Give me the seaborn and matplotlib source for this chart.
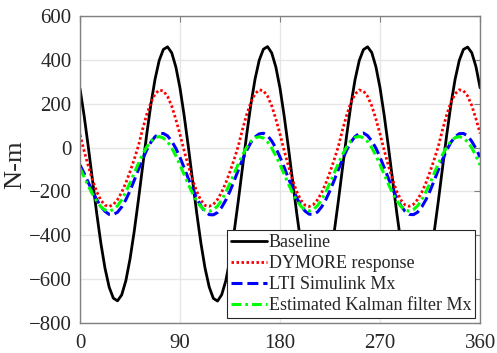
import numpy as np
import pandas as pd
import matplotlib
matplotlib.use('Agg')
import matplotlib.pyplot as plt
import seaborn as sns

# Azimuth angle (deg), 24 readings per 90 deg
angle = np.linspace(0, 360, 97)

# Moment values (N-m)
baseline = [268, 143, 1, -150, -299, -436, -551, -637, -687, -699, -672, -607, -508, -383, -241, -90, 59, 196, 311, 397, 447, 459, 432, 367,
            270, 144, 2, -149, -298, -435, -550, -636, -688, -700, -671, -606, -507, -382, -240, -89, 60, 197, 312, 398, 448, 460, 431, 366,
            269, 142, 0, -151, -300, -437, -552, -638, -687, -699, -673, -608, -509, -384, -242, -91, 58, 195, 310, 396, 446, 459, 433, 368,
            271, 145, 3, -148, -297, -435, -551, -637, -686, -698, -672, -607, -508, -383, -241, -90, 59, 196, 311, 397, 447, 458, 432, 369,
            272]
dymore = [58, -17, -85, -148, -201, -240, -263, -269, -260, -238, -204, -161, -110, -54, 7, 82, 150, 205, 244, 262, 258, 233, 189, 128,
          59, -16, -84, -147, -200, -241, -264, -268, -259, -237, -203, -160, -109, -53, 8, 83, 151, 206, 245, 263, 259, 234, 190, 129,
          60, -15, -84, -148, -201, -240, -263, -269, -260, -238, -205, -162, -111, -55, 6, 81, 149, 205, 244, 262, 258, 233, 190, 130,
          61, -14, -83, -147, -200, -239, -262, -268, -259, -237, -204, -161, -110, -54, 7, 82, 150, 206, 245, 263, 259, 235, 191, 131,
          64]
lti = [-80, -118, -160, -200, -237, -269, -291, -305, -306, -295, -271, -238, -197, -150, -101, -54, -12, 24, 49, 63, 64, 53, 29, -4,
       -46, -93, -142, -189, -231, -267, -292, -306, -307, -296, -272, -239, -198, -151, -102, -55, -13, 23, 48, 62, 65, 54, 30, -3,
       -44, -91, -140, -187, -229, -265, -290, -304, -305, -294, -270, -237, -196, -149, -100, -53, -11, 25, 50, 64, 66, 54, 30, -3,
       -45, -92, -141, -188, -230, -266, -291, -305, -306, -295, -271, -238, -197, -150, -101, -54, -12, 24, 49, 63, 64, 53, 28, -5,
       -44]
kalman = [-95, -135, -175, -213, -244, -270, -285, -290, -283, -266, -238, -202, -161, -117, -73, -32, 2, 29, 45, 50, 43, 26, -2, -38,
          -80, -124, -168, -209, -243, -270, -286, -291, -284, -267, -239, -203, -162, -118, -74, -33, 1, 28, 44, 49, 43, 25, -3, -39,
          -78, -122, -166, -207, -241, -268, -284, -289, -282, -265, -237, -201, -160, -116, -72, -31, 3, 30, 46, 51, 44, 27, -1, -37,
          -79, -123, -167, -208, -242, -269, -285, -290, -283, -266, -238, -202, -161, -117, -73, -32, 2, 29, 45, 50, 43, 26, -2, -38,
          -80]

labels = ['Baseline', 'DYMORE response', 'LTI Simulink Mx', 'Estimated Kalman filter Mx']
xticks = [0, 90, 180, 270, 360]
yticks = [-800, -600, -400, -200, 0, 200, 400, 600]

sns.set_style('white')
plt.rcParams['font.family'] = ['Liberation Serif', 'DejaVu Serif']

fig = plt.figure(figsize=(4.97, 3.53), dpi=100)
ax = fig.add_axes([0.161, 0.085, 0.805, 0.870])

series = [baseline, dymore, lti, kalman]
colors = ['black', '#ff0000', '#0000ff', '#00ff00']
styles = ['-', (0, (0.9, 0.9)), (0, (3.6, 1.6)), (0, (3.2, 1.3, 0.9, 1.3))]
widths = [2.0, 2.0, 2.2, 2.2]

for vals, lab, c, ls, lw in zip(series, labels, colors, styles, widths):
    sns.lineplot(x=angle, y=vals, ax=ax, color=c, linestyle=ls, linewidth=lw, label=lab)

ax.set_xlim(0, 360)
ax.set_ylim(-800, 600)
ax.set_xticks(xticks)
ax.set_yticks(yticks)
ax.set_xlabel('')
ax.set_ylabel('N-m', fontsize=19, color='#262626')
ax.yaxis.set_label_coords(-0.135, 0.515)

ax.grid(True, color='#e6e6e6', linewidth=1)
ax.set_axisbelow(True)
for sp in ax.spines.values():
    sp.set_color('#808080')
    sp.set_linewidth(1)
ax.tick_params(direction='in', length=4, width=0.8, color='#808080',
               labelsize=15, labelcolor='#262626', pad=6,
               top=True, right=True)
ax.tick_params(axis='x', pad=8)

leg = ax.legend(loc='lower right', fontsize=13, frameon=True, fancybox=False,
                framealpha=1, edgecolor='#262626', borderpad=0.2,
                labelspacing=0.22, handlelength=2.0, handletextpad=0.1,
                borderaxespad=0.3)
leg.get_frame().set_linewidth(0.8)

fig.savefig('out.png', dpi=100)
